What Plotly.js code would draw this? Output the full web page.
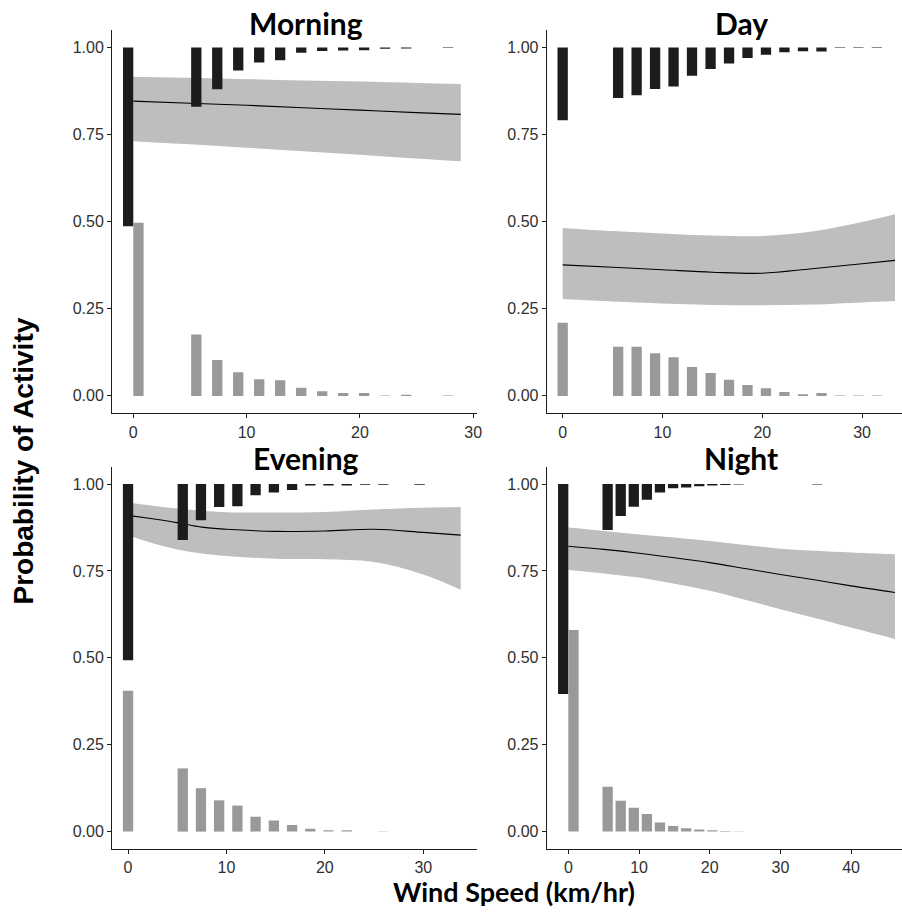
<!DOCTYPE html>
<html>
<head>
<meta charset="utf-8">
<script src="https://cdn.plot.ly/plotly-3.0.1.min.js"></script>
<style>html,body{margin:0;padding:0;background:#fff;}#chart{width:902px;height:914px;}</style>
</head>
<body>
<div id="chart"></div>
<script>
// ---------------- DATA ----------------
const panelNames = ["Morning", "Day", "Evening", "Night"];

// wind speed bins (km/hr) for the histogram bars
const morningBins = [0, 5.56, 7.41, 9.26, 11.11, 12.96, 14.82, 16.67, 18.52, 20.37, 22.22, 24.08, 27.78];
const morningActive = [0.513, 0.170, 0.120, 0.066, 0.043, 0.037, 0.015, 0.010, 0.009, 0.008, 0.004, 0.003, 0.002];
const morningInactive = [0.497, 0.176, 0.103, 0.068, 0.048, 0.045, 0.023, 0.013, 0.008, 0.008, 0.001, 0.003, 0.001];

const dayBins = [0, 5.56, 7.41, 9.26, 11.11, 12.96, 14.82, 16.67, 18.52, 20.37, 22.22, 24.08, 25.93, 27.78, 29.63, 31.48];
const dayActive = [0.209, 0.145, 0.137, 0.119, 0.112, 0.081, 0.062, 0.046, 0.030, 0.021, 0.014, 0.011, 0.012, 0.002, 0.002, 0.002];
const dayInactive = [0.210, 0.141, 0.141, 0.122, 0.111, 0.083, 0.066, 0.046, 0.031, 0.022, 0.011, 0.005, 0.008, 0.001, 0.001, 0.001];

const eveningBins = [0, 5.56, 7.41, 9.26, 11.11, 12.96, 14.82, 16.67, 18.52, 20.37, 22.22, 24.08, 25.93, 29.63];
const eveningActive = [0.507, 0.161, 0.104, 0.066, 0.064, 0.032, 0.024, 0.017, 0.004, 0.004, 0.004, 0.002, 0.002, 0.002];
const eveningInactive = [0.405, 0.182, 0.125, 0.090, 0.075, 0.043, 0.032, 0.019, 0.008, 0.004, 0.004, 0.000, 0.001, 0.000];

const nightBins = [0, 5.56, 7.41, 9.26, 11.11, 12.96, 14.82, 16.67, 18.52, 20.37, 22.22, 24.08, 35.19];
const nightActive = [0.604, 0.132, 0.092, 0.065, 0.045, 0.024, 0.012, 0.010, 0.006, 0.004, 0.003, 0.001, 0.001];
const nightInactive = [0.580, 0.129, 0.089, 0.069, 0.051, 0.026, 0.016, 0.010, 0.006, 0.004, 0.002, 0.001, 0.000];

// fitted logistic curve with confidence band
const morningCurveX = [0, 5, 10, 15, 20, 25, 28.9];
const morningFit = [0.846, 0.840, 0.834, 0.827, 0.820, 0.813, 0.808];
const morningUpper = [0.916, 0.913, 0.909, 0.905, 0.902, 0.898, 0.895];
const morningLower = [0.731, 0.722, 0.712, 0.702, 0.692, 0.681, 0.673];

const dayCurveX = [0, 5, 10, 15, 20, 25, 30, 33.3];
const dayFit = [0.376, 0.369, 0.362, 0.355, 0.352, 0.365, 0.379, 0.389];
const dayUpper = [0.482, 0.473, 0.466, 0.460, 0.459, 0.472, 0.499, 0.521];
const dayLower = [0.278, 0.271, 0.265, 0.261, 0.260, 0.262, 0.268, 0.272];

const eveningCurveX = [0, 2.5, 5, 7.5, 10, 15, 20, 25, 30, 33.8];
const eveningFit = [0.910, 0.900, 0.889, 0.876, 0.870, 0.864, 0.865, 0.870, 0.861, 0.853];
const eveningUpper = [0.946, 0.938, 0.930, 0.923, 0.919, 0.918, 0.920, 0.927, 0.932, 0.934];
const eveningLower = [0.853, 0.830, 0.812, 0.800, 0.793, 0.785, 0.784, 0.776, 0.740, 0.696];

const nightCurveX = [0, 5, 10, 15, 20, 25, 30, 35, 40, 46.2];
const nightFit = [0.821, 0.812, 0.801, 0.788, 0.774, 0.757, 0.740, 0.724, 0.707, 0.688];
const nightUpper = [0.875, 0.865, 0.855, 0.846, 0.836, 0.825, 0.814, 0.808, 0.803, 0.798];
const nightLower = [0.753, 0.743, 0.731, 0.713, 0.693, 0.667, 0.640, 0.614, 0.587, 0.554];

const yTickVals = [0, 0.25, 0.5, 0.75, 1];
const yTickText = ["0.00", "0.25", "0.50", "0.75", "1.00"];
const xTicks30 = [0, 10, 20, 30];
const xTicks40 = [0, 10, 20, 30, 40];

const xTitle = "Wind Speed (km/hr)";
const yTitle = "Probability of Activity";

// ---------------- STYLE / LAYOUT ----------------
const W = 902, H = 914;
const colLeft = [112 / W, 477.3 / W];
const colRight = [546.7 / W, 1.0];
const rowTop = [1 - 413.3 / H, 1 - 30 / H];
const rowBottom = [1 - 849 / H, 1 - 466.7 / H];

const panels = [
  {name: panelNames[0], bins: morningBins, act: morningActive, inact: morningInactive,
   cx: morningCurveX, fit: morningFit, up: morningUpper, lo: morningLower,
   xdom: colLeft, ydom: rowTop, xr: [-1.88, 30.36], ticks: xTicks30, dodge: true, tx: 305.5, ty: 23},
  {name: panelNames[1], bins: dayBins, act: dayActive, inact: dayInactive,
   cx: dayCurveX, fit: dayFit, up: dayUpper, lo: dayLower,
   xdom: colRight, ydom: rowTop, xr: [-1.6, 34.0], ticks: xTicks30, dodge: false, tx: 741, ty: 23},
  {name: panelNames[2], bins: eveningBins, act: eveningActive, inact: eveningInactive,
   cx: eveningCurveX, fit: eveningFit, up: eveningUpper, lo: eveningLower,
   xdom: colLeft, ydom: rowBottom, xr: [-1.63, 35.49], ticks: xTicks30, dodge: false, tx: 305.5, ty: 458},
  {name: panelNames[3], bins: nightBins, act: nightActive, inact: nightInactive,
   cx: nightCurveX, fit: nightFit, up: nightUpper, lo: nightLower,
   xdom: colRight, ydom: rowBottom, xr: [-3.06, 47.2], ticks: xTicks40, dodge: true, tx: 740.5, ty: 458}
];

const yRange = [-0.05, 1.05];
const barPx = 10.3;
const tickFont = {family: "Liberation Sans", size: 16, color: "#303030"};
const axisColor = "#1e1e1e";

const traces = [];
const layout = {
  width: W, height: H,
  margin: {l: 0, r: 0, t: 0, b: 0},
  font: {family: "Liberation Sans"},
  paper_bgcolor: "#ffffff", plot_bgcolor: "#ffffff",
  showlegend: false, hovermode: false, barmode: "overlay",
  annotations: []
};

panels.forEach((p, i) => {
  const n = i + 1;
  const xid = n === 1 ? "x" : "x" + n;
  const yid = n === 1 ? "y" : "y" + n;
  const ox = "x" + (n + 4);
  const domPx = (p.xdom[1] - p.xdom[0]) * W;
  const bw = barPx * (p.xr[1] - p.xr[0]) / domPx;

  layout["xaxis" + (n === 1 ? "" : n)] = {
    domain: p.xdom, range: p.xr, anchor: yid,
    showgrid: false, zeroline: false, showline: true, linecolor: axisColor, linewidth: 1,
    ticks: "outside", ticklen: 4, tickwidth: 1, tickcolor: axisColor,
    tickvals: p.ticks, ticktext: p.ticks.map(String), tickfont: tickFont, fixedrange: true
  };
  layout["yaxis" + (n === 1 ? "" : n)] = {
    domain: p.ydom, range: yRange, anchor: xid,
    showgrid: false, zeroline: false, showline: true, linecolor: axisColor, linewidth: 1,
    ticks: "outside", ticklen: 4, tickwidth: 1, tickcolor: axisColor,
    tickvals: yTickVals, ticktext: yTickText, tickfont: tickFont, fixedrange: true
  };
  layout["xaxis" + (n + 4)] = {
    overlaying: xid, anchor: yid, range: p.xr, visible: false, fixedrange: true
  };

  // confidence band
  traces.push({type: "scatter", mode: "lines", x: p.cx, y: p.lo, xaxis: xid, yaxis: yid,
    line: {width: 0, shape: "spline", color: "#bebebe"}, hoverinfo: "skip"});
  traces.push({type: "scatter", mode: "lines", x: p.cx, y: p.up, xaxis: xid, yaxis: yid,
    line: {width: 0, shape: "spline", color: "#bebebe"}, fill: "tonexty", fillcolor: "#bebebe", hoverinfo: "skip"});
  // fitted line
  traces.push({type: "scatter", mode: "lines", x: p.cx, y: p.fit, xaxis: xid, yaxis: yid,
    line: {width: 1.1, shape: "spline", color: "#000000"}, hoverinfo: "skip"});

  // histogram bars (on overlay axis so they sit above the band)
  const actOffset = p.bins.map(b => (p.dodge && b === 0) ? -bw : -bw / 2);
  const inactOffset = p.bins.map(b => (p.dodge && b === 0) ? 0 : -bw / 2);
  traces.push({type: "bar", x: p.bins, y: p.act.map(v => -v), base: 1, width: bw, offset: actOffset,
    xaxis: ox, yaxis: yid, marker: {color: "#1c1c1c", line: {width: 0}}, hoverinfo: "skip"});
  traces.push({type: "bar", x: p.bins, y: p.inact, base: 0, width: bw, offset: inactOffset,
    xaxis: ox, yaxis: yid, marker: {color: "#999999", line: {width: 0}}, hoverinfo: "skip"});

  layout.annotations.push({
    text: "<b>" + p.name + "</b>", xref: "paper", yref: "paper",
    x: p.tx / W, y: 1 - p.ty / H, xanchor: "center", yanchor: "middle", showarrow: false,
    font: {family: "Lato", size: 30, color: "#000000"}
  });
});

layout.annotations.push({
  text: "<b>" + xTitle + "</b>", xref: "paper", yref: "paper",
  x: 514 / W, y: 1 - 891 / H, xanchor: "center", yanchor: "middle", showarrow: false,
  font: {family: "Lato", size: 27, color: "#000000"}
});
layout.annotations.push({
  text: "<b>" + yTitle + "</b>", xref: "paper", yref: "paper",
  x: 23 / W, y: 1 - 461.5 / H, xanchor: "center", yanchor: "middle", textangle: -90, showarrow: false,
  font: {family: "Liberation Sans", size: 28, color: "#000000"}
});

Plotly.newPlot("chart", traces, layout, {staticPlot: true, displayModeBar: false});
</script>
</body>
</html>
